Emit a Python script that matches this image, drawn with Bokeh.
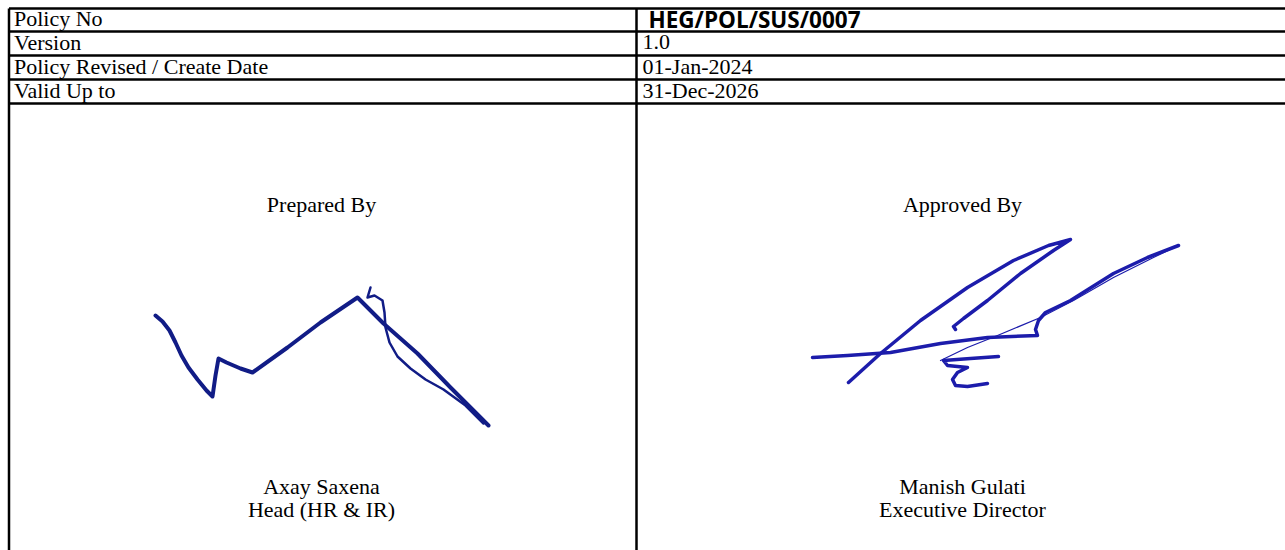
from bokeh.plotting import figure
from bokeh.models import Range1d
from bokeh.core.properties import value
from bokeh.embed import file_html
from bokeh.resources import INLINE

# ---- table structure (page pixel coordinates) ----
row_lines_y = [8, 31, 55, 79, 103]
col_lines_x = [8.5, 636]
table_right = 1285
table_bottom = 550

row_labels = ["Policy No", "Version", "Policy Revised / Create Date", "Valid Up to"]
row_values = ["HEG/POL/SUS/0007", "1.0", "01-Jan-2024", "31-Dec-2026"]
value_bold = [True, False, False, False]

sign_titles = ["Prepared By", "Approved By"]
sign_names = ["Axay Saxena", "Manish Gulati"]
sign_roles = ["Head (HR & IR)", "Executive Director"]
sign_centers_x = [321, 962]
title_y = 204
name_y = 486
role_y = 509

# ---- signature strokes (page pixel coordinates) ----
sig1_main_x = [155, 162, 169, 175, 181, 188, 197, 206, 212, 215, 218, 226, 240, 252, 287, 320, 357, 383, 417, 450, 488]
sig1_main_y = [315, 321, 330, 342, 355, 367, 379, 390, 396, 375, 358, 362, 368, 372, 347, 322, 297, 323, 353, 387, 425]
sig1_loop_x = [370, 367, 374, 382, 384, 385, 389, 397, 410, 425, 443, 465, 483]
sig1_loop_y = [287, 297, 295, 300, 312, 327, 342, 356, 368, 379, 389, 405, 423]

sig2_a_x = [848, 880, 920, 967, 1013, 1048, 1070, 1053, 1020, 987, 963, 953, 955]
sig2_a_y = [382, 353, 320, 287, 260, 245, 239, 250, 273, 300, 318, 326, 329]
sig2_b_x = [812, 847, 890, 940, 987, 1037, 1035, 1038, 1045, 1070, 1113, 1147, 1178]
sig2_b_y = [357, 355, 352, 343, 337, 335, 329, 320, 312, 300, 273, 257, 245]
sig2_thin_x = [1178, 1153, 1113, 1073, 1040, 997, 967, 940]
sig2_thin_y = [245, 257, 277, 300, 317, 335, 347, 360]
sig2_z_x = [998, 970, 943, 947, 967, 957, 952, 955, 967, 987]
sig2_z_y = [356, 358, 360, 365, 367, 372, 379, 385, 386, 383]

p = figure(width=1285, height=550, output_backend="svg", toolbar_location=None,
           x_range=Range1d(0, 1285), y_range=Range1d(550, 0),
           min_border=0, outline_line_color=None)
p.axis.visible = False
p.grid.visible = False
p.background_fill_color = "white"
p.border_fill_color = "white"

# horizontal rule lines
p.segment(x0=[col_lines_x[0]] * len(row_lines_y), y0=row_lines_y,
          x1=[table_right] * len(row_lines_y), y1=row_lines_y,
          line_color="black", line_width=2.5)
# vertical lines
p.segment(x0=col_lines_x, y0=[row_lines_y[0]] * 2, x1=col_lines_x, y1=[table_bottom] * 2,
          line_color="black", line_width=2.5)

serif = value("Liberation Serif")
row_mid = [(row_lines_y[i] + row_lines_y[i + 1]) / 2 - 1.5 for i in range(len(row_labels))]

p.text(x=[col_lines_x[0] + 5] * len(row_labels), y=row_mid, text=row_labels,
       text_font=serif, text_font_size="22px", text_baseline="middle",
       text_align="left", text_color="black")

for i, (v, b) in enumerate(zip(row_values, value_bold)):
    if b:
        p.text(x=[col_lines_x[1] + 12], y=[row_mid[i] + 0.5], text=[v],
               text_font=value("Open Sans"), text_font_style="bold",
               text_font_size="22.5px", text_baseline="middle",
               text_align="left", text_color="black")
    else:
        p.text(x=[col_lines_x[1] + 6], y=[row_mid[i]], text=[v],
               text_font=serif, text_font_size="22px", text_baseline="middle",
               text_align="left", text_color="black")

p.text(x=sign_centers_x, y=[title_y] * 2, text=sign_titles, text_font=serif,
       text_font_size="22px", text_baseline="middle", text_align="center", text_color="black")
p.text(x=sign_centers_x, y=[name_y] * 2, text=sign_names, text_font=serif,
       text_font_size="22px", text_baseline="middle", text_align="center", text_color="black")
p.text(x=sign_centers_x, y=[role_y] * 2, text=sign_roles, text_font=serif,
       text_font_size="22px", text_baseline="middle", text_align="center", text_color="black")

ink1 = "#111c86"
ink2 = "#1c1cab"
p.line(sig1_main_x, sig1_main_y, line_color=ink1, line_width=4, line_join="round", line_cap="round")
p.line(sig1_loop_x, sig1_loop_y, line_color=ink1, line_width=2.5, line_join="round", line_cap="round")
p.line(sig2_a_x, sig2_a_y, line_color=ink2, line_width=3.5, line_join="round", line_cap="round")
p.line(sig2_b_x, sig2_b_y, line_color=ink2, line_width=3.5, line_join="round", line_cap="round")
p.line(sig2_thin_x, sig2_thin_y, line_color=ink2, line_width=1.2, line_join="round", line_cap="round")
p.line(sig2_z_x, sig2_z_y, line_color=ink2, line_width=3.5, line_join="round", line_cap="round")

open("out.html", "w").write(file_html(p, INLINE))
